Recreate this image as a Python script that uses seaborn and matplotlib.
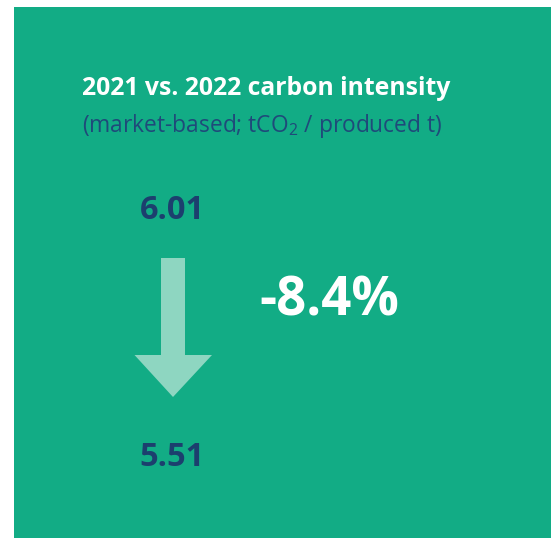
import matplotlib
matplotlib.use("Agg")
import matplotlib.pyplot as plt
from matplotlib.patches import Rectangle, Polygon
import seaborn as sns

# Carbon intensity, market-based (tCO2 per produced tonne)
years = ["2021", "2022"]
intensity = [6.01, 5.51]
pct_change = [-8.4]

title = "2021 vs. 2022 carbon intensity"
subtitle = "(market-based; tCO$_2$ / produced t)"

GREEN = "#12ac85"
NAVY = "#1c3f6e"
SUB_NAVY = "#1f4a7a"
ARROW = "#8ed6c1"

sns.set_theme(style="white")
plt.rcParams["font.family"] = ["Open Sans", "DejaVu Sans"]
plt.rcParams["mathtext.fontset"] = "custom"
plt.rcParams["mathtext.rm"] = "Open Sans"
plt.rcParams["mathtext.it"] = "Open Sans"
plt.rcParams["mathtext.default"] = "rm"

W, H = 551, 538
fig = plt.figure(figsize=(W / 100, H / 100), dpi=100)
ax = fig.add_axes([0, 0, 1, 1])
ax.set_xlim(0, W)
ax.set_ylim(H, 0)
ax.axis("off")

# Panel background
ax.add_patch(Rectangle((14, 7), W - 14, H - 7 + 2, color=GREEN, lw=0))

ax.text(82.5, 95, title, fontsize=17.8, fontweight="bold", color="white",
        ha="left", va="baseline")
ax.text(82.5, 132.5, subtitle, fontsize=16.4, color=SUB_NAVY,
        ha="left", va="baseline")

# Start and end values
cx = 173
ax.text(cx - 1, 219, f"{intensity[0]:.2f}", fontsize=23.5, fontweight="bold",
        color=NAVY, ha="center", va="baseline")
ax.text(cx - 1, 466.5, f"{intensity[1]:.2f}", fontsize=23.5, fontweight="bold",
        color=NAVY, ha="center", va="baseline")

# Downward arrow between the two values
shaft_l, shaft_r = 161, 185
top, base, tip = 258, 355, 397
head_l, head_r = 134.5, 212
arrow = Polygon([(shaft_l, top), (shaft_r, top), (shaft_r, base), (head_r, base),
                 (cx, tip), (head_l, base), (shaft_l, base)],
                closed=True, color=ARROW, lw=0)
ax.add_patch(arrow)

ax.text(329, 315, f"{pct_change[0]:.1f}%", fontsize=38, fontweight="bold",
        color="white", ha="center", va="baseline")

fig.savefig("out.png", dpi=100, facecolor="white")
